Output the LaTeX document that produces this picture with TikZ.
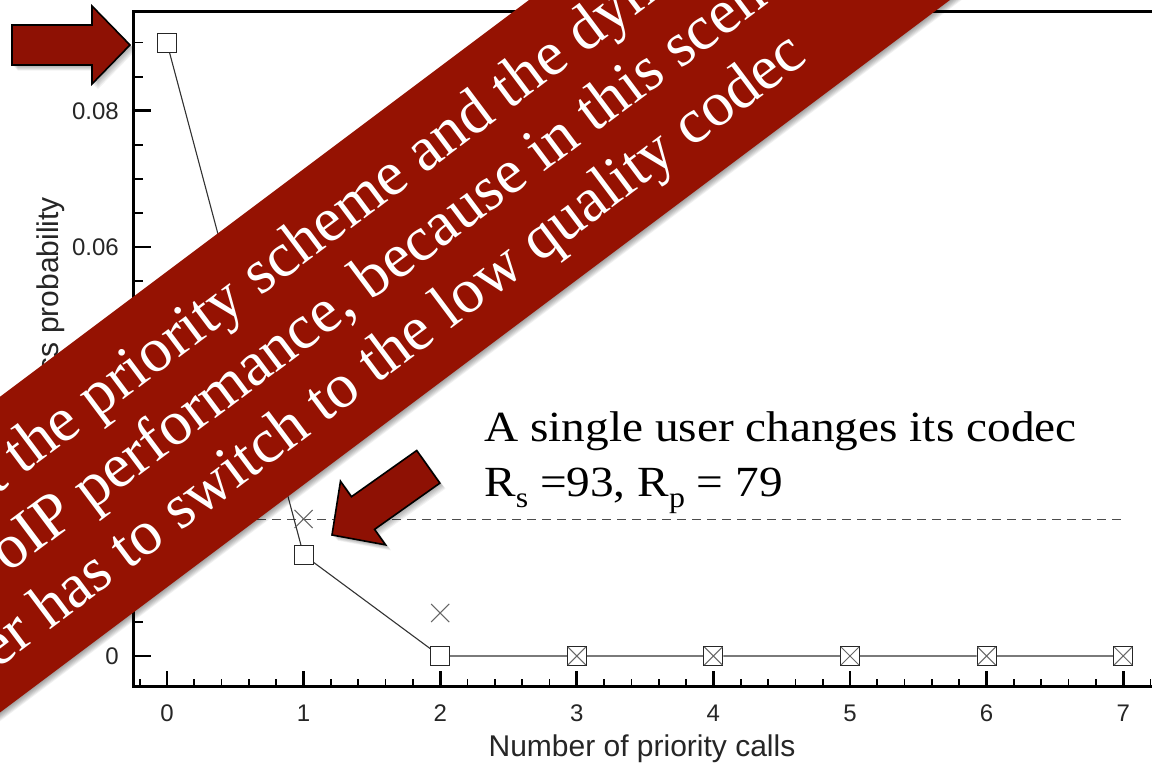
\documentclass[tikz,border=0pt]{standalone}
\usepackage{fontspec}
\setmainfont{Liberation Serif}
\newfontfamily\plotfont{Liberation Sans}
\newfontfamily\bannerfont{Liberation Serif}
\usetikzlibrary{shapes.misc}
\definecolor{bannerred}{RGB}{149,18,2}
\definecolor{arrowred}{RGB}{142,17,4}
\tikzset{
  axisline/.style={line width=3pt,black},
  majortick/.style={line width=2.8pt,black},
  minortick/.style={line width=1.7pt,black},
  ticklabel/.style={font=\plotfont\fontsize{24}{26}\selectfont,text=black!85,inner sep=0pt},
  axistitle/.style={font=\plotfont\fontsize{30}{34}\selectfont,text=black!85,inner sep=0pt},
  sq/.style={draw=black!85,fill=white,line width=1pt,minimum size=19pt,inner sep=0pt},
  xmark/.style={cross out,draw=black!60,line width=1.1pt,minimum size=17pt,inner sep=0pt},
  xbox/.style={cross out,draw=black!60,line width=1pt,minimum size=17pt,inner sep=0pt},
  series/.style={draw=black!80,line width=1.1pt},
  dashline/.style={draw=black!70,line width=1.5pt,dash pattern=on 9pt off 6pt},
  notetext/.style={font=\rmfamily\fontsize{43}{50}\selectfont,xscale=1.1,anchor=base west,inner sep=0pt,text=black},
  bannertext/.style={transform shape,anchor=base west,inner sep=0pt,text=white,font=\bannerfont\fontsize{63}{70}\selectfont},
  pics/blockarrow/.style={code={\path[pic actions] (0,0) -- (-38,39) -- (-38,20) -- (-118,20) -- (-118,-20) -- (-38,-20) -- (-38,-39) -- cycle;}}
}
\begin{document}
\begin{tikzpicture}[x=1pt,y=1pt]
\useasboundingbox (0,0) rectangle (1152,768);
\clip (0,0) rectangle (1152,768);
\fill[white] (0,0) rectangle (1152,768);

% x ticks
\foreach \k in {-1,...,36}{
  \pgfmathsetmacro\xx{167+27.32*\k}
  \pgfmathtruncatemacro\r{mod(\k+5,5)}
  \ifnum\r=0
    \draw[majortick] (\xx,81) -- ++(0,16);
  \else
    \draw[minortick] (\xx,81) -- ++(0,8);
  \fi
}
% y ticks
\foreach \j in {0,...,18}{
  \pgfmathsetmacro\yy{112+34.075*\j}
  \pgfmathtruncatemacro\r{mod(\j,4)}
  \ifnum\r=0
    \draw[majortick] (133,\yy) -- ++(18,0);
  \else
    \draw[minortick] (133,\yy) -- ++(10,0);
  \fi
}
% frame
\draw[axisline] (1160,756) -- (133,756) -- (133,81) -- (1160,81);

% tick labels
\foreach \n in {0,...,7}
  \node[ticklabel] (xl\n) at ({167+136.6*\n},55) {\n};
\node[ticklabel,anchor=east] (yl0) at (119,112) {0};
\node[ticklabel,anchor=east] (yl6) at (119,520.9) {0.06};
\node[ticklabel,anchor=east] (yl8) at (119,657.2) {0.08};

% axis titles
\node[axistitle,anchor=base] (xt) at (642,11) {Number of priority calls};
\node[axistitle,rotate=90,anchor=east] (yt) at (51,571) {Loss probability};

% dashed threshold
\coordinate (dl) at (167,248.3);
\coordinate (dr) at (1123.2,248.3);
\draw[dashline] (dl) -- (dr);

% series
\foreach \n/\Y in {0/725,1/213,2/112,3/112,4/112,5/112,6/112,7/112}
  \node[sq] (s\n) at ({167+136.6*\n},\Y) {};
\draw[series] (s0) -- (s1) -- (s2) -- (s3) -- (s4) -- (s5) -- (s6) -- (s7);
\node[xmark] (c1) at (303.6,249) {};
\node[xmark] (c2) at (440.2,155) {};
\foreach \n in {3,...,7}
  \node[xbox] (c\n) at (s\n) {};

% note text
\node[notetext] (n1) at (484,326) {A single user changes its codec};
\node[notetext] (n2) at (484,271) {R\raisebox{-11pt}{\fontsize{29}{29}\selectfont s} =93, R\raisebox{-11pt}{\fontsize{29}{29}\selectfont p} = 79};

% banner
\begin{scope}[shift={(950,768)},rotate=36.8699]
  \foreach \k in {1,...,7}
    \fill[black,opacity=0.06] (-1400,-\k) rectangle (700,250-\k);
  \fill[bannerred] (-1400,0) rectangle (700,252.6);
  \node[bannertext] (b1) at (-1247,176) {Without the priority scheme and the dynamic};
  \node[bannertext] (b2) at (-1135,106) {VoIP performance, because in this scenario};
  \node[bannertext] (b3) at (-1220,36) {user has to switch to the low quality codec};
\end{scope}

% block arrows
\foreach \tx/\ty/\rot/\nm in {130/723/0/a1, 332/233/215.3/a2}{
  \foreach \k in {1,...,7}
    \pic[fill=black,fill opacity=0.05,rotate=\rot] at (\tx+0.8*\k,\ty-0.8*\k) {blockarrow};
  \pic[fill=arrowred,draw=black,line width=1.6pt,line join=miter,rotate=\rot] (\nm) at (\tx,\ty) {blockarrow};
}
\end{tikzpicture}
\end{document}
